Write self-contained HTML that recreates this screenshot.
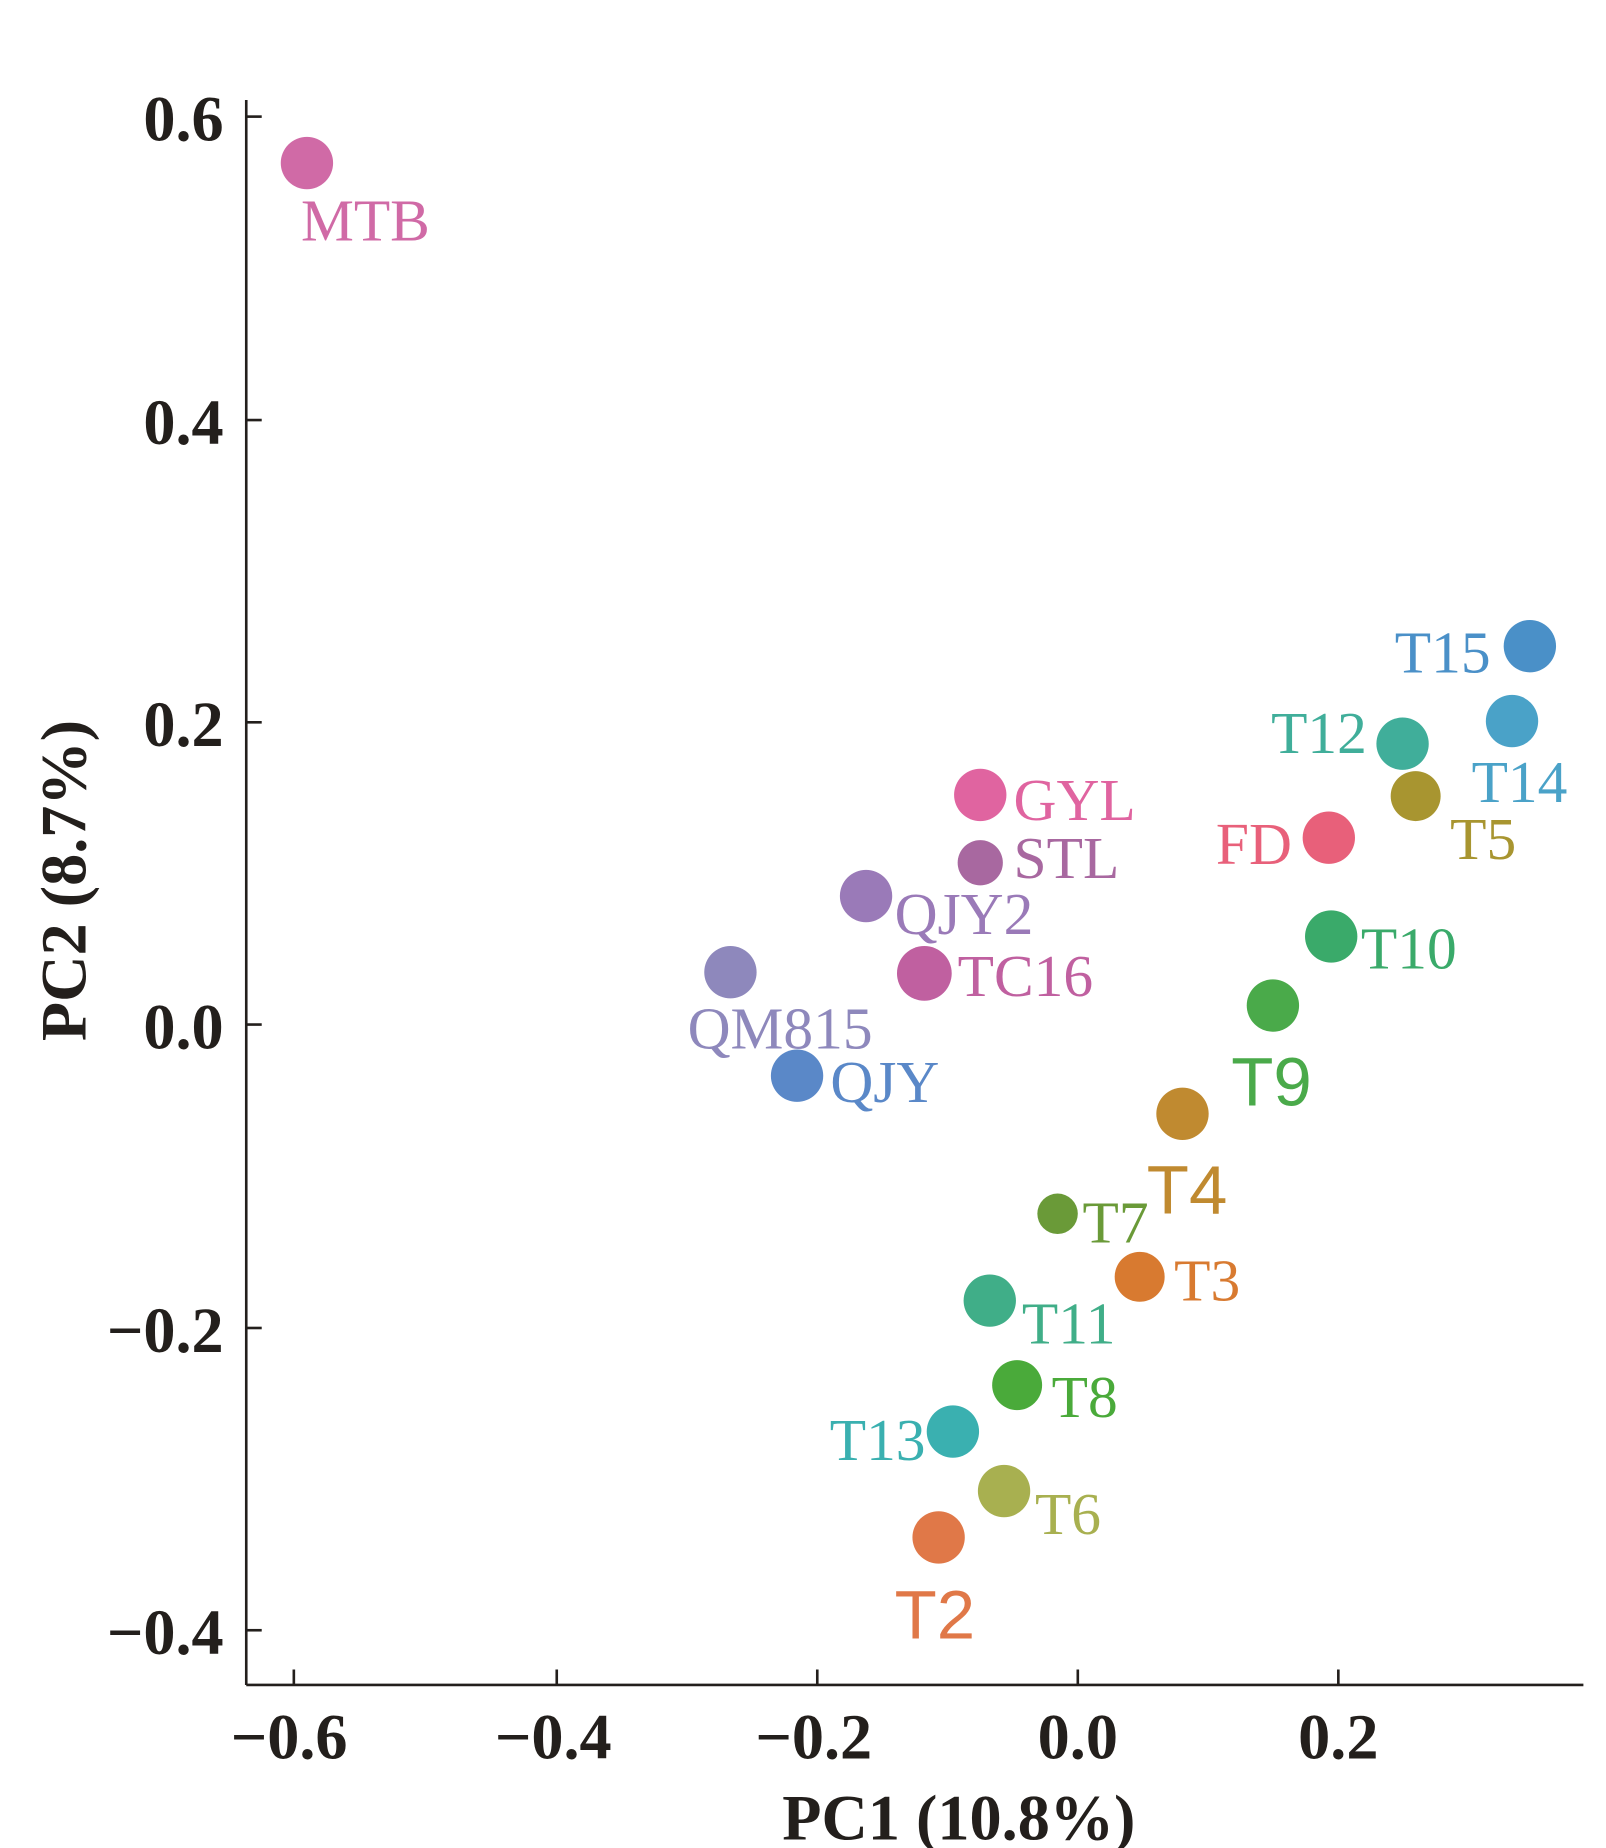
<!DOCTYPE html>
<html><head><style>html,body{margin:0;padding:0;background:#fff}svg{display:block}</style></head>
<body>
<svg width="1606" height="1848" viewBox="0 0 1350 1553" preserveAspectRatio="none" xmlns="http://www.w3.org/2000/svg">
<g stroke="#231f1c" stroke-width="2.2" fill="none">
<line x1="207" y1="84" x2="207" y2="1416"/>
<line x1="207" y1="1416" x2="1331" y2="1416"/>
<line x1="207" y1="98" x2="220" y2="98"/>
<line x1="207" y1="353" x2="220" y2="353"/>
<line x1="207" y1="607" x2="220" y2="607"/>
<line x1="207" y1="861" x2="220" y2="861"/>
<line x1="207" y1="1116" x2="220" y2="1116"/>
<line x1="207" y1="1370" x2="220" y2="1370"/>
<line x1="247" y1="1403" x2="247" y2="1416"/>
<line x1="468" y1="1403" x2="468" y2="1416"/>
<line x1="687" y1="1403" x2="687" y2="1416"/>
<line x1="906" y1="1403" x2="906" y2="1416"/>
<line x1="1125" y1="1403" x2="1125" y2="1416"/>
</g>
<g font-family="Liberation Serif, serif" font-size="54" font-weight="bold" fill="#231f1c" text-anchor="end">
<text x="188" y="118">0.6</text>
<text x="188" y="373">0.4</text>
<text x="188" y="627">0.2</text>
<text x="188" y="881">0.0</text>
<text x="188" y="1136">−0.2</text>
<text x="188" y="1390">−0.4</text>
</g>
<g font-family="Liberation Serif, serif" font-size="54" font-weight="bold" fill="#231f1c" text-anchor="middle">
<text x="243" y="1478">−0.6</text>
<text x="465" y="1478">−0.4</text>
<text x="684" y="1478">−0.2</text>
<text x="906" y="1478">0.0</text>
<text x="1125" y="1478">0.2</text>
<text x="806" y="1546">PC1 (10.8%)</text>
<text transform="translate(72,740) rotate(-90)">PC2 (8.7%)</text>
</g>
<g>
<circle cx="258" cy="137" r="22" fill="#d06aa6"/>
<circle cx="1286" cy="543" r="22" fill="#4a90c8"/>
<circle cx="1271" cy="606" r="22" fill="#4aa2c8"/>
<circle cx="1179" cy="625" r="22" fill="#40ae9a"/>
<circle cx="1190" cy="669" r="21" fill="#a89530"/>
<circle cx="1117" cy="704" r="22" fill="#e8607a"/>
<circle cx="824" cy="668" r="22" fill="#e064a0"/>
<circle cx="824" cy="725" r="19" fill="#a868a0"/>
<circle cx="728" cy="753" r="22" fill="#9a7ab8"/>
<circle cx="777" cy="818" r="23" fill="#c060a0"/>
<circle cx="614" cy="817" r="22" fill="#8e88bc"/>
<circle cx="670" cy="904" r="22" fill="#5a88c8"/>
<circle cx="1119" cy="787" r="22" fill="#3aaa6a"/>
<circle cx="1070" cy="845" r="22" fill="#4aaa4a"/>
<circle cx="994" cy="936" r="22" fill="#c08a30"/>
<circle cx="889" cy="1020" r="17" fill="#6a9a38"/>
<circle cx="958" cy="1073" r="21" fill="#d87a30"/>
<circle cx="832" cy="1093" r="22" fill="#40ae88"/>
<circle cx="855" cy="1164" r="21" fill="#4aaa3a"/>
<circle cx="801" cy="1203" r="22" fill="#3ab0b0"/>
<circle cx="844" cy="1253" r="22" fill="#a8b050"/>
<circle cx="789" cy="1292" r="22" fill="#e07848"/>
</g>
<g font-family="Liberation Serif, serif" font-size="50">
<text x="253" y="202" fill="#d06aa6">MTB</text>
<text x="1253" y="565" fill="#4a90c8" text-anchor="end">T15</text>
<text x="1237" y="674" fill="#4aa2c8">T14</text>
<text x="1149" y="633" fill="#40ae9a" text-anchor="end">T12</text>
<text x="1219" y="722" fill="#a89530">T5</text>
<text x="1086" y="726" fill="#e8607a" text-anchor="end">FD</text>
<text x="852" y="689" fill="#e064a0">GYL</text>
<text x="852" y="738" fill="#a868a0">STL</text>
<text x="752" y="785" fill="#9a7ab8">QJY2</text>
<text x="805" y="837" fill="#c060a0">TC16</text>
<text x="578" y="881" fill="#8e88bc">QM815</text>
<text x="698" y="926" fill="#5a88c8">QJY</text>
<text x="1144" y="814" fill="#3aaa6a">T10</text>
<text x="910" y="1044" fill="#6a9a38">T7</text>
<text x="987" y="1093" fill="#d87a30">T3</text>
<text x="859" y="1129" fill="#40ae88">T11</text>
<text x="884" y="1191" fill="#4aaa3a">T8</text>
<text x="778" y="1227" fill="#3ab0b0" text-anchor="end">T13</text>
<text x="870" y="1289" fill="#a8b050">T6</text>
</g>
<g font-family="Liberation Sans, sans-serif" font-size="58">
<text x="1035" y="929" fill="#4aaa4a">T9</text>
<text x="964" y="1020" fill="#c08a30">T4</text>
<text x="752" y="1377" fill="#e07848">T2</text>
</g>
</svg>
</body></html>
